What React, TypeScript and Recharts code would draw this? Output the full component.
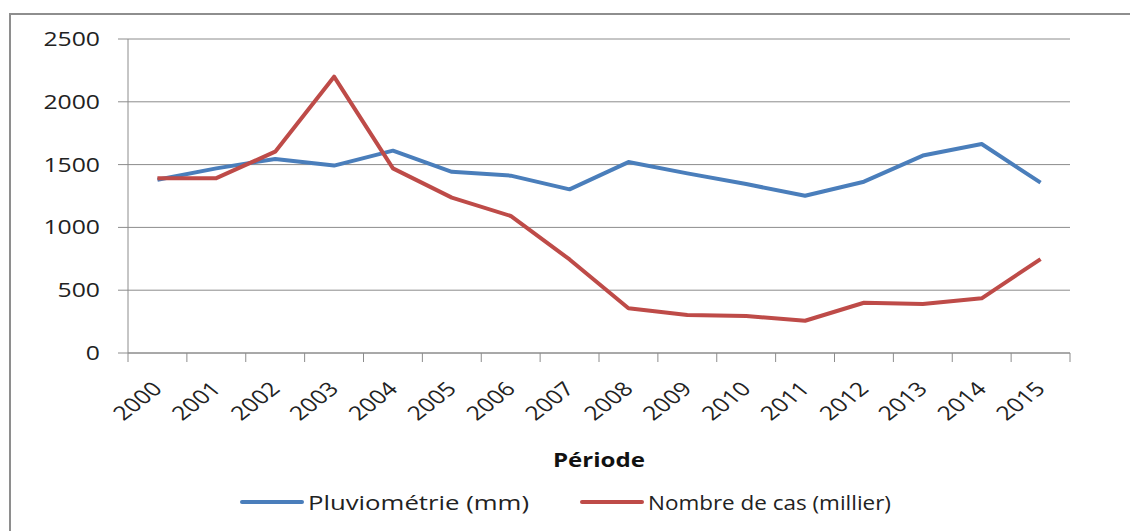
import { LineChart, Line, XAxis, YAxis, CartesianGrid, Legend } from 'recharts';

const years = ['2000', '2001', '2002', '2003', '2004', '2005', '2006', '2007', '2008', '2009', '2010', '2011', '2012', '2013', '2014', '2015'];
const pluviometrie = [1380, 1470, 1545, 1492, 1611, 1443, 1412, 1303, 1520, 1430, 1345, 1252, 1364, 1572, 1664, 1356];
const nombreCas = [1392, 1392, 1603, 2200, 1470, 1237, 1091, 745, 356, 303, 295, 257, 400, 390, 435, 748];
const yTicks = [0, 500, 1000, 1500, 2000, 2500];

const BLUE = '#4a7ebb';
const RED = '#be4b48';
const GRID = '#8c8c8c';
const FONT = '"Open Sans", sans-serif';
const STRETCH = 1.27; // the source picture is stretched horizontally

const data = years.map((year, i) => ({ year, pluie: pluviometrie[i], cas: nombreCas[i] }));

function YTick({ x, y, payload }: any) {
    return (
        <g transform={`translate(${x},${y}) scale(${STRETCH},1)`}>
            <text x={0} y={0} dy="0.36em" textAnchor="end" fontFamily={FONT} fontSize={19.5} fill="#222">
                {payload.value}
            </text>
        </g>
    );
}

// label centred in the band, tick marks on the band edges (Excel style)
function XTick({ x, y, payload, index }: any) {
    const half = payload.offset || 29.4;
    const last = index === years.length - 1;
    return (
        <g>
            <line x1={x - half} y1={y} x2={x - half} y2={y + 9} stroke={GRID} />
            {last && <line x1={x + half} y1={y} x2={x + half} y2={y + 9} stroke={GRID} />}
            <g transform={`translate(${x + 6},${y + 37}) scale(${STRETCH},1) rotate(-45)`}>
                <text x={0} y={0} textAnchor="end" fontFamily={FONT} fontSize={19.5} fill="#222">
                    {payload.value}
                </text>
            </g>
        </g>
    );
}

function LegendContent() {
    const items = [
        { label: 'Pluviométrie (mm)', color: BLUE, x: 242, w: 221 },
        { label: 'Nombre de cas (millier)', color: RED, x: 582, w: 243 },
    ];
    return (
        <svg width={1130} height={90} style={{ display: 'block' }}>
            <g transform={`translate(599,27) scale(${STRETCH},1)`}>
                <text x={0} y={0} textAnchor="middle" fontFamily={FONT} fontWeight="bold" fontSize={19} fill="#111">
                    Période
                </text>
            </g>
            {items.map((it) => (
                <g key={it.label}>
                    <line x1={it.x} y1={62} x2={it.x + 60} y2={62} stroke={it.color} strokeWidth={4} strokeLinecap="round" />
                    <text
                        x={it.x + 66}
                        y={70}
                        textLength={it.w}
                        lengthAdjust="spacingAndGlyphs"
                        fontFamily={FONT}
                        fontSize={19.5}
                        fill="#222"
                    >
                        {it.label}
                    </text>
                </g>
            ))}
        </svg>
    );
}

export default function App() {
    return (
        <div style={{ position: 'absolute', left: 0, top: 0, width: 1130, height: 531, overflow: 'hidden', background: '#fff' }}>
            <div style={{ position: 'absolute', left: 9, top: 13, width: 1400, height: 800, border: '2px solid #8e8e8e', borderRightWidth: 0, borderBottomWidth: 0 }} />
            <LineChart width={1130} height={531} data={data} margin={{ top: 39, right: 60, bottom: 0, left: 0 }}>
                <CartesianGrid vertical={false} stroke={GRID} strokeWidth={1} />
                <XAxis
                    dataKey="year"
                    scale="band"
                    height={178}
                    axisLine={{ stroke: GRID }}
                    tickLine={false}
                    tickSize={0}
                    tickMargin={0}
                    interval={0}
                    tick={<XTick />}
                />
                <YAxis
                    width={128}
                    domain={[0, 2500]}
                    ticks={yTicks}
                    axisLine={{ stroke: GRID }}
                    tickLine={{ stroke: GRID }}
                    tickSize={10}
                    tickMargin={18}
                    tick={<YTick />}
                />
                <Legend
                    verticalAlign="middle"
                    align="center"
                    layout="horizontal"
                    content={<LegendContent />}
                    wrapperStyle={{ left: 0, top: 440, width: 1130, height: 90 }}
                />
                <Line dataKey="pluie" name="Pluviométrie (mm)" stroke={BLUE} strokeWidth={4} dot={false} isAnimationActive={false} strokeLinejoin="round" />
                <Line dataKey="cas" name="Nombre de cas (millier)" stroke={RED} strokeWidth={4} dot={false} isAnimationActive={false} strokeLinejoin="round" />
            </LineChart>
        </div>
    );
}
